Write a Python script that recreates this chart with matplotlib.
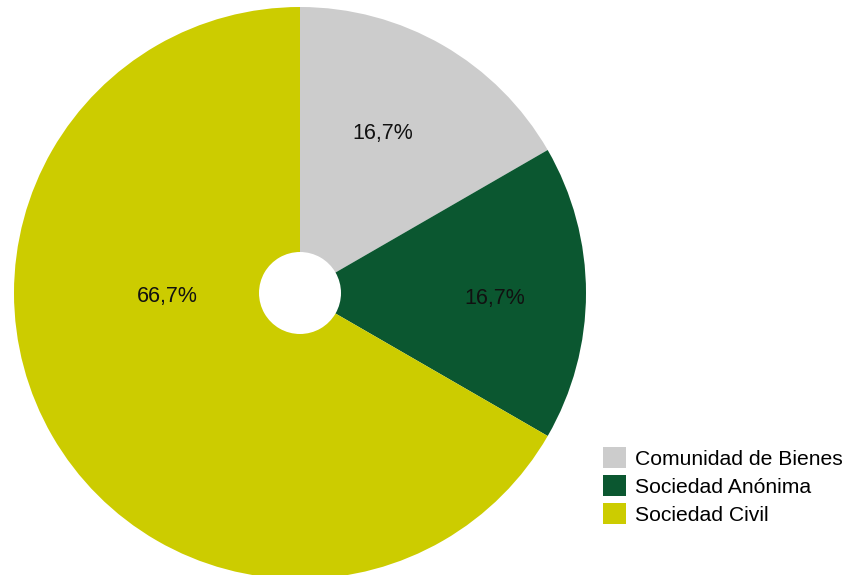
#!/usr/bin/env python3
# -*- coding: utf-8 -*-

import matplotlib
matplotlib.use('Agg')
import matplotlib.pyplot as plt
import numpy as np

plt.rcParams['font.family'] = ['Liberation Sans', 'DejaVu Sans']

categories = ['Comunidad de Bienes', 'Sociedad Anónima', 'Sociedad Civil']
counts = [1, 1, 4]
colors = ['#cccccc', '#0b5730', '#cccc00']

# label placement per slice: (angle in degrees, distance as fraction of radius)
label_pos = [(62.5, 0.63), (-1.5, 0.68), (181.3, 0.465)]


def plot():
    fig = plt.figure(figsize=(8.45, 5.75), dpi=100)
    ax = fig.add_axes([14 / 845, -4 / 575, 572 / 845, 572 / 575])

    wedges, _ = ax.pie(counts, colors=colors, startangle=90, counterclock=False,
                       radius=1, wedgeprops=dict(width=1 - 41 / 286, edgecolor='none'))

    total = float(sum(counts))
    for (ang, r), v in zip(label_pos, counts):
        pct = ('%.1f%%' % (100 * v / total)).replace('.', ',')
        a = np.deg2rad(ang)
        ax.text(r * np.cos(a), r * np.sin(a), pct, ha='center', va='center',
                fontsize=15.5, color='#111111')

    ax.set_xlim(-1, 1)
    ax.set_ylim(-1, 1)
    ax.set_aspect('equal')
    ax.axis('off')

    fig.legend(wedges, categories, loc='lower left',
               bbox_to_anchor=(603 / 845, 50 / 575), frameon=False,
               fontsize=15.2, handlelength=1.1, handleheight=1.15,
               handletextpad=0.42, labelspacing=0.3, borderpad=0,
               borderaxespad=0)

    fig.savefig('out.png', dpi=100)


def main():
    plot()


if __name__ == '__main__':
    main()
